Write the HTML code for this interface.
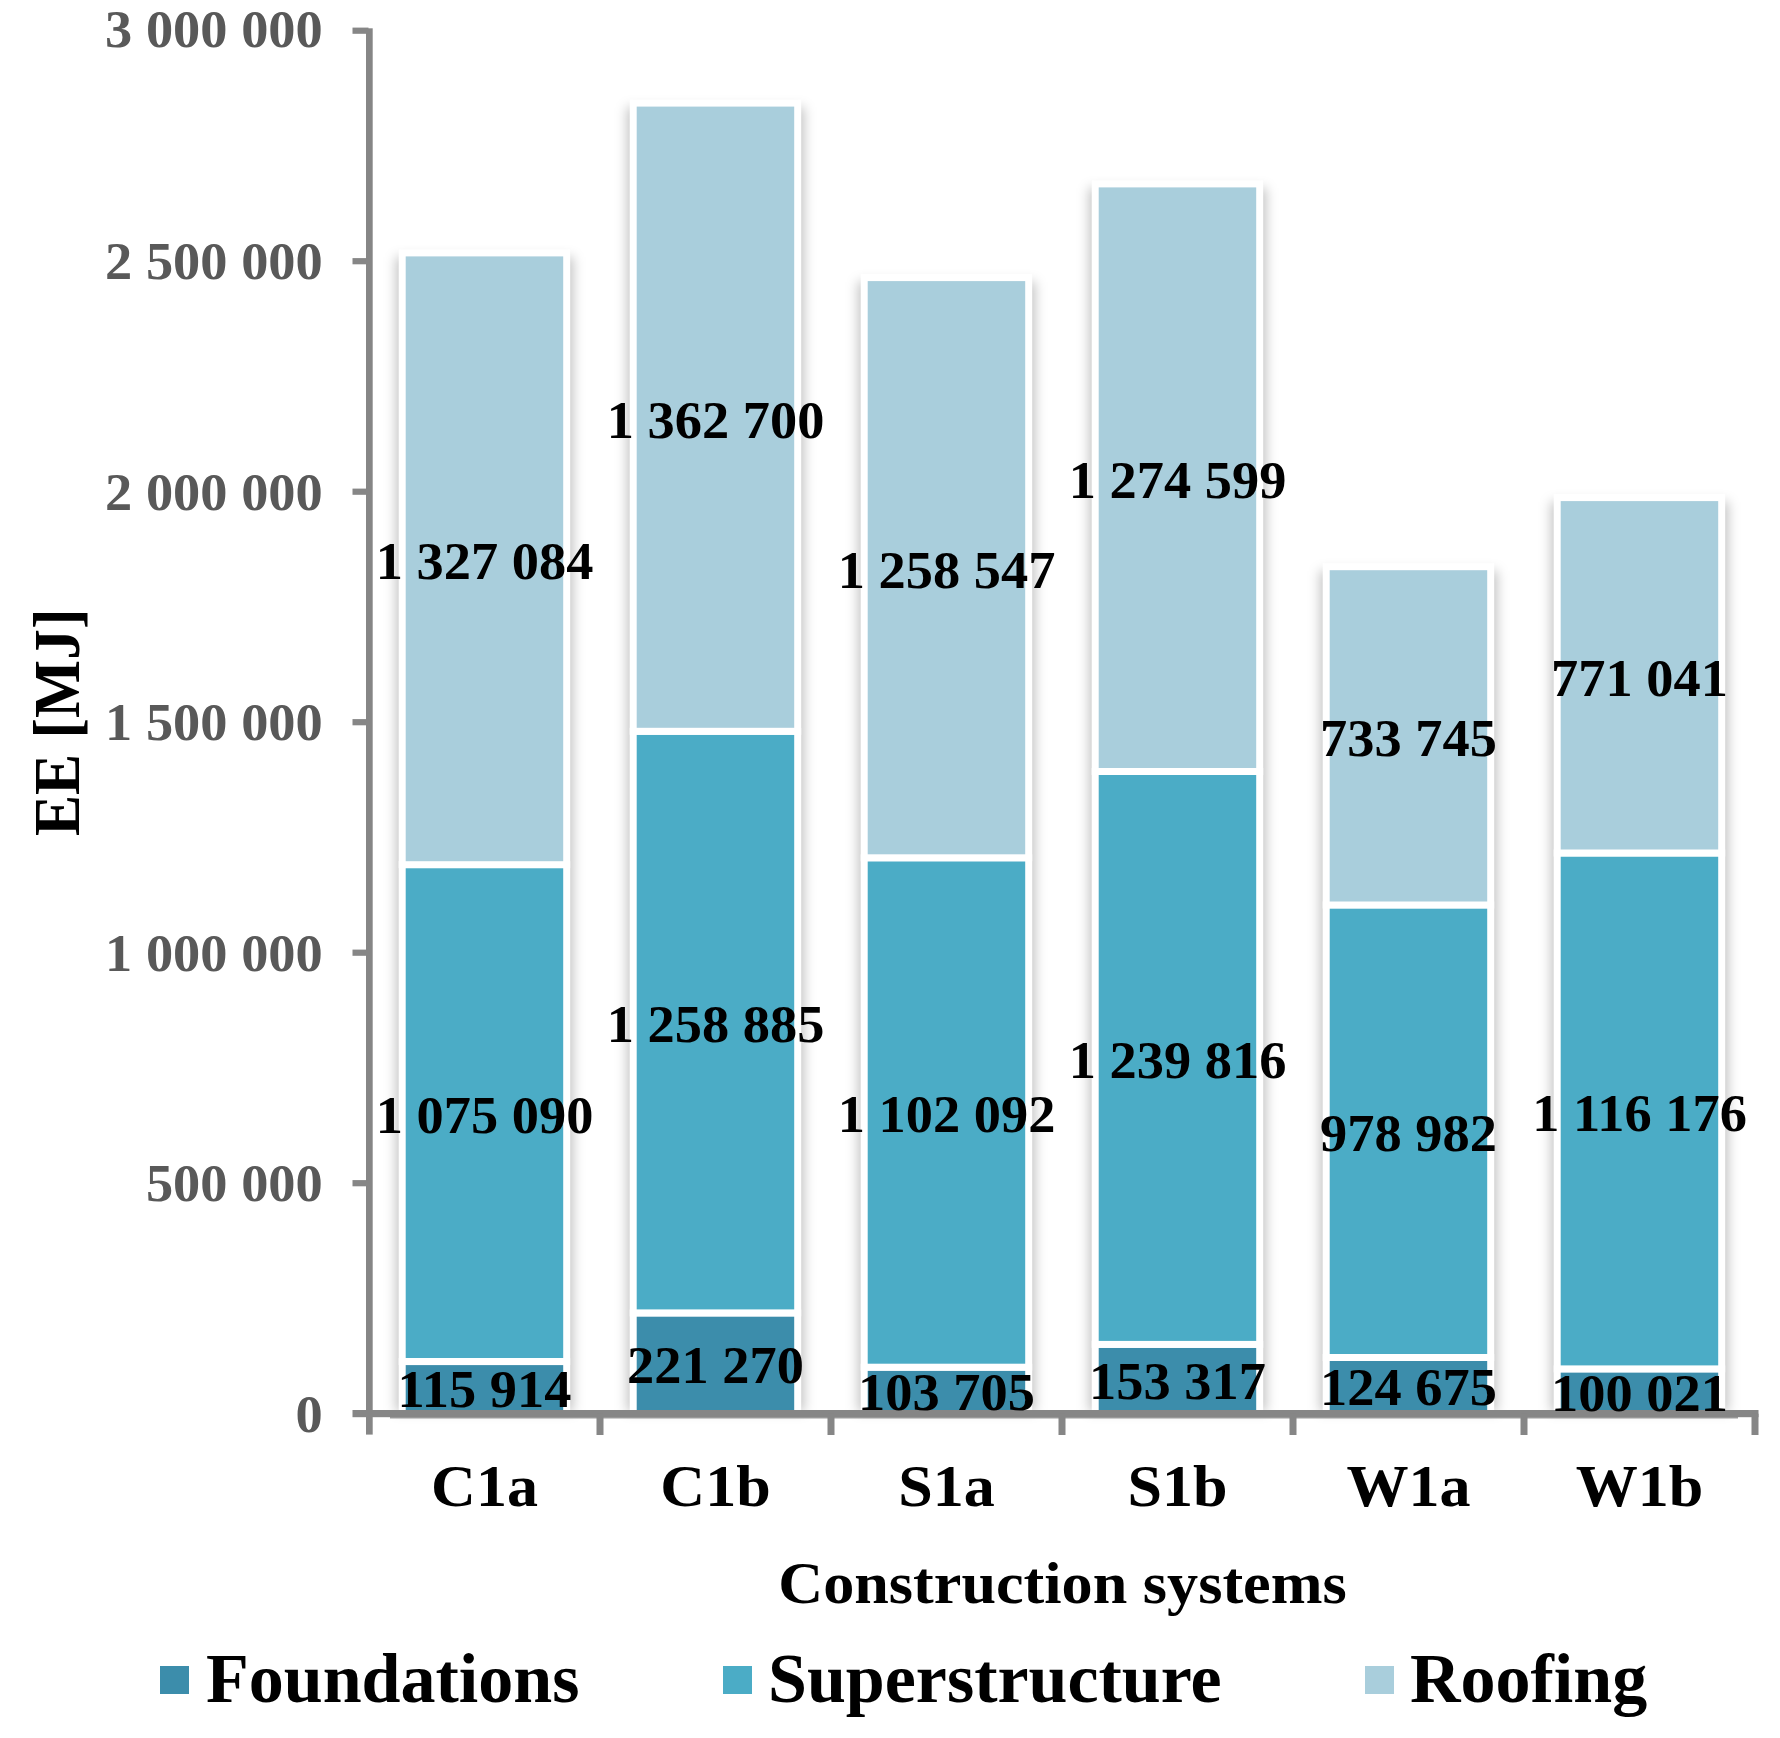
<!DOCTYPE html>
<html lang="en"><head><meta charset="utf-8"><title>EE by construction system</title>
<style>
html,body{margin:0;padding:0;background:#fff;}
body{width:1780px;height:1738px;overflow:hidden;}
svg{display:block;}
text{font-family:"Liberation Serif","Times New Roman",Times,serif;font-weight:bold;}
.tick{font-size:52.6px;fill:#595959;text-anchor:end;}
.lbl{font-size:52.6px;fill:#000;text-anchor:middle;}
.cat{font-size:60px;fill:#000;text-anchor:middle;}
.ttl{font-size:60px;fill:#000;text-anchor:middle;}
.leg{font-size:70px;fill:#000;text-anchor:start;}
</style></head><body>
<svg width="1780" height="1738" viewBox="0 0 1780 1738">
<defs><filter id="sh" x="-30%" y="-5%" width="160%" height="110%"><feGaussianBlur stdDeviation="6"/></filter></defs>
<rect x="0" y="0" width="1780" height="1738" fill="#ffffff"/>
<rect x="395.8" y="256.9" width="177.5" height="1154.8" fill="#000" fill-opacity="0.23" filter="url(#sh)"/>
<rect x="626.8" y="107.1" width="177.5" height="1304.6" fill="#000" fill-opacity="0.23" filter="url(#sh)"/>
<rect x="857.8" y="281.6" width="177.5" height="1130.1" fill="#000" fill-opacity="0.23" filter="url(#sh)"/>
<rect x="1088.8" y="187.9" width="177.5" height="1223.8" fill="#000" fill-opacity="0.23" filter="url(#sh)"/>
<rect x="1319.8" y="570.7" width="177.5" height="841.0" fill="#000" fill-opacity="0.23" filter="url(#sh)"/>
<rect x="1550.8" y="501.6" width="177.5" height="910.1" fill="#000" fill-opacity="0.23" filter="url(#sh)"/>
<rect x="402.2" y="1361.6" width="164.5" height="52.1" fill="#3C8DAB" stroke="#ffffff" stroke-width="7.0"/>
<rect x="402.2" y="864.6" width="164.5" height="496.9" fill="#4BACC6" stroke="#ffffff" stroke-width="7.0"/>
<rect x="402.2" y="252.9" width="164.5" height="611.8" fill="#A9CEDC" stroke="#ffffff" stroke-width="7.0"/>
<rect x="633.2" y="1313.0" width="164.5" height="100.7" fill="#3C8DAB" stroke="#ffffff" stroke-width="7.0"/>
<rect x="633.2" y="731.3" width="164.5" height="581.6" fill="#4BACC6" stroke="#ffffff" stroke-width="7.0"/>
<rect x="633.2" y="103.1" width="164.5" height="628.2" fill="#A9CEDC" stroke="#ffffff" stroke-width="7.0"/>
<rect x="864.2" y="1367.2" width="164.5" height="46.5" fill="#3C8DAB" stroke="#ffffff" stroke-width="7.0"/>
<rect x="864.2" y="857.8" width="164.5" height="509.4" fill="#4BACC6" stroke="#ffffff" stroke-width="7.0"/>
<rect x="864.2" y="277.6" width="164.5" height="580.2" fill="#A9CEDC" stroke="#ffffff" stroke-width="7.0"/>
<rect x="1095.2" y="1344.3" width="164.5" height="69.4" fill="#3C8DAB" stroke="#ffffff" stroke-width="7.0"/>
<rect x="1095.2" y="771.5" width="164.5" height="572.9" fill="#4BACC6" stroke="#ffffff" stroke-width="7.0"/>
<rect x="1095.2" y="183.9" width="164.5" height="587.6" fill="#A9CEDC" stroke="#ffffff" stroke-width="7.0"/>
<rect x="1326.2" y="1357.5" width="164.5" height="56.2" fill="#3C8DAB" stroke="#ffffff" stroke-width="7.0"/>
<rect x="1326.2" y="904.9" width="164.5" height="452.6" fill="#4BACC6" stroke="#ffffff" stroke-width="7.0"/>
<rect x="1326.2" y="566.7" width="164.5" height="338.3" fill="#A9CEDC" stroke="#ffffff" stroke-width="7.0"/>
<rect x="1557.2" y="1368.9" width="164.5" height="44.8" fill="#3C8DAB" stroke="#ffffff" stroke-width="7.0"/>
<rect x="1557.2" y="853.0" width="164.5" height="515.9" fill="#4BACC6" stroke="#ffffff" stroke-width="7.0"/>
<rect x="1557.2" y="497.6" width="164.5" height="355.4" fill="#A9CEDC" stroke="#ffffff" stroke-width="7.0"/>
<rect x="366" y="28.3" width="6.7" height="1406.3" fill="#868686"/>
<rect x="390" y="1416.7" width="1348" height="1.8" fill="#9c9c9c"/>
<rect x="352.5" y="1410.0" width="1406.0" height="7.2" fill="#868686"/>
<rect x="352.5" y="1180.1" width="16" height="6.2" fill="#868686"/>
<rect x="596.5" y="1413.7" width="7" height="21.3" fill="#868686"/>
<rect x="352.5" y="949.6" width="16" height="6.2" fill="#868686"/>
<rect x="827.5" y="1413.7" width="7" height="21.3" fill="#868686"/>
<rect x="352.5" y="719.1" width="16" height="6.2" fill="#868686"/>
<rect x="1058.5" y="1413.7" width="7" height="21.3" fill="#868686"/>
<rect x="352.5" y="488.6" width="16" height="6.2" fill="#868686"/>
<rect x="1289.5" y="1413.7" width="7" height="21.3" fill="#868686"/>
<rect x="352.5" y="258.1" width="16" height="6.2" fill="#868686"/>
<rect x="1520.5" y="1413.7" width="7" height="21.3" fill="#868686"/>
<rect x="352.5" y="27.6" width="16" height="6.2" fill="#868686"/>
<rect x="1751.5" y="1413.7" width="7" height="21.3" fill="#868686"/>
<text class="tick" transform="translate(322.8,1431.8) scale(1.035,1)">0</text>
<text class="tick" transform="translate(322.8,1201.3) scale(1.035,1)">500 000</text>
<text class="tick" transform="translate(322.8,970.8) scale(1.035,1)">1 000 000</text>
<text class="tick" transform="translate(322.8,740.3) scale(1.035,1)">1 500 000</text>
<text class="tick" transform="translate(322.8,509.8) scale(1.035,1)">2 000 000</text>
<text class="tick" transform="translate(322.8,279.3) scale(1.035,1)">2 500 000</text>
<text class="tick" transform="translate(322.8,47.1) scale(1.035,1)">3 000 000</text>
<text class="lbl" transform="translate(484.5,1407.3) scale(1.035,1)">115 914</text>
<text class="lbl" transform="translate(484.5,1132.8) scale(1.035,1)">1 075 090</text>
<text class="lbl" transform="translate(484.5,579.1) scale(1.035,1)">1 327 084</text>
<text class="lbl" transform="translate(715.5,1383.0) scale(1.035,1)">221 270</text>
<text class="lbl" transform="translate(715.5,1041.8) scale(1.035,1)">1 258 885</text>
<text class="lbl" transform="translate(715.5,437.5) scale(1.035,1)">1 362 700</text>
<text class="lbl" transform="translate(946.5,1410.1) scale(1.035,1)">103 705</text>
<text class="lbl" transform="translate(946.5,1132.2) scale(1.035,1)">1 102 092</text>
<text class="lbl" transform="translate(946.5,588.0) scale(1.035,1)">1 258 547</text>
<text class="lbl" transform="translate(1177.5,1398.7) scale(1.035,1)">153 317</text>
<text class="lbl" transform="translate(1177.5,1077.5) scale(1.035,1)">1 239 816</text>
<text class="lbl" transform="translate(1177.5,498.0) scale(1.035,1)">1 274 599</text>
<text class="lbl" transform="translate(1408.5,1405.3) scale(1.035,1)">124 675</text>
<text class="lbl" transform="translate(1408.5,1150.9) scale(1.035,1)">978 982</text>
<text class="lbl" transform="translate(1408.5,756.1) scale(1.035,1)">733 745</text>
<text class="lbl" transform="translate(1639.5,1410.9) scale(1.035,1)">100 021</text>
<text class="lbl" transform="translate(1639.5,1130.6) scale(1.035,1)">1 116 176</text>
<text class="lbl" transform="translate(1639.5,695.6) scale(1.035,1)">771 041</text>
<text class="cat" transform="translate(484.5,1505.6) scale(1.035,1)">C1a</text>
<text class="cat" transform="translate(715.5,1505.6) scale(1.035,1)">C1b</text>
<text class="cat" transform="translate(946.5,1505.6) scale(1.035,1)">S1a</text>
<text class="cat" transform="translate(1177.5,1505.6) scale(1.035,1)">S1b</text>
<text class="cat" transform="translate(1408.5,1505.6) scale(1.035,1)">W1a</text>
<text class="cat" transform="translate(1639.5,1505.6) scale(1.035,1)">W1b</text>
<text class="ttl" transform="translate(1062.5,1602.6) scale(1.037,1)">Construction systems</text>
<text class="ttl" style="font-size:61.6px" transform="translate(78.5,722.3) rotate(-90) scale(1,1.08)" x="0" y="0">EE [MJ]</text>
<rect x="160" y="1666" width="29" height="28" fill="#3C8DAB"/>
<text class="leg" x="206" y="1702">Foundations</text>
<rect x="723" y="1666" width="29" height="28" fill="#4BACC6"/>
<text class="leg" x="768" y="1702">Superstructure</text>
<rect x="1365" y="1666" width="29" height="28" fill="#A9CEDC"/>
<text class="leg" x="1410" y="1702">Roofing</text>
</svg></body></html>
